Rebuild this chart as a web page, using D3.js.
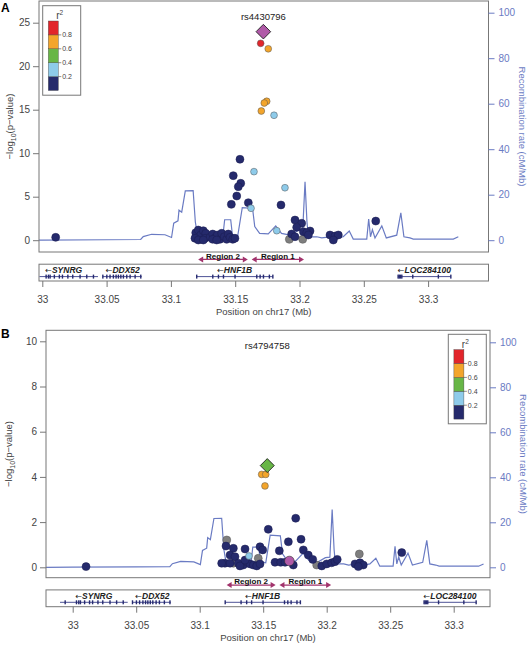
<!DOCTYPE html>
<html><head><meta charset="utf-8">
<script src="https://cdn.jsdelivr.net/npm/d3@7"></script>
<style>body{margin:0;background:#fff;} svg{display:block;font-family:"Liberation Sans",Arial,sans-serif;}</style>
</head><body><svg id="c" width="528" height="645"></svg>
<script>
// ---------- data ----------
const xTickValues = [33, 33.05, 33.1, 33.15, 33.2, 33.25, 33.3];
const xTickLabels = ["33", "33.05", "33.1", "33.15", "33.2", "33.25", "33.3"];
const yTicksA = [0, 5, 10, 15, 20, 25];
const yTicksB = [0, 2, 4, 6, 8, 10];
const recTicks = [0, 20, 40, 60, 80, 100];
const legendBreaks = [0.2, 0.4, 0.6, 0.8];
const legendLabels = ["0.2", "0.4", "0.6", "0.8"];
const legendColors = ["#252a6c", "#8ecbea", "#68b646", "#f3a52b", "#e2252b"];

const recombPos = [32.979, 33.0, 33.05, 33.0765, 33.0785, 33.085, 33.0954, 33.1005, 33.1022, 33.1055, 33.1063, 33.1084, 33.1112, 33.1173, 33.119, 33.1205, 33.126, 33.132, 33.138, 33.1405, 33.1418, 33.1465, 33.1478, 33.152, 33.1555, 33.1635, 33.1652, 33.169, 33.1757, 33.1815, 33.186, 33.1926, 33.199, 33.2025, 33.2043, 33.2058, 33.2068, 33.2082, 33.2134, 33.2173, 33.2237, 33.2289, 33.234, 33.2387, 33.2418, 33.2523, 33.2538, 33.2552, 33.2567, 33.2587, 33.264, 33.2675, 33.2756, 33.2788, 33.2812, 33.2859, 33.2885, 33.3196, 33.3235];
const recombRate = [0, 0.05, 0.2, 0.3, 1.6, 2.6, 2.4, 1.2, 7.5, 8.5, 13.2, 12.3, 21.7, 21.8, 8, 3, 1.8, 1.5, 2, 2.2, 9, 9, 2.5, 2, 14.3, 14, 6, 3, 2.8, 6.3, 3, 2.2, 4.3, 4.5, 25.7, 8, 2, 1.5, 1.5, 1, 1.5, 1, 1.5, 4, 0.5, 0.5, 9.3, 1.5, 4.6, 1, 6.3, 1, 2.2, 12, 1.5, 1, 0.5, 0.5, 1.5];

// Panel A SNPs (position Mb, -log10 p, r2; null = no r2)
const snpPosA = [33.0104, 33.1193, 33.1213, 33.1232, 33.1252, 33.1271, 33.1187, 33.1213, 33.124, 33.1265, 33.1304, 33.1325, 33.1343, 33.1361, 33.1382, 33.1395, 33.1415, 33.1434, 33.1446, 33.146, 33.1481, 33.1498, 33.1325, 33.1356, 33.1252, 33.1537, 33.1485, 33.1543, 33.1524, 33.1512, 33.1602, 33.147, 33.1856, 33.1965, 33.2593, 33.2017, 33.1978, 33.2082, 33.203, 33.2056, 33.1939, 33.2069, 33.1965, 33.1921, 33.2025, 33.2237, 33.2276, 33.2302, 33.2263, 33.1646, 33.1887, 33.1623, 33.1823, 33.1802, 33.1757, 33.1745, 33.1726, 33.1703, 33.1698];
const snpLogpA = [0.33, 0.86, 1.17, 0.6, 1.09, 0.79, 0.22, 0.02, 0.1, 0.22, 0.33, 0.71, 0.22, 0.6, 0.1, 0.79, 0.4, 0.1, 0.71, 0.33, 0.1, 0.22, 0.1, 0.02, 0.02, 9.3, 7.42, 6.54, 6.15, 5.08, 4.31, 4.12, 4.05, 2.32, 2.2, 1.94, 1.48, 1.06, 0.98, 0.86, 0.71, 0.6, 0.4, 0.1, 0.1, 0.6, 0.48, 0.6, 0.02, 7.88, 6.03, 3.67, 1.09, 14.36, 22.0, 15.97, 15.77, 14.85, 22.63];
const snpR2A = [0.05, 0.05, 0.05, 0.05, 0.05, 0.05, 0.05, 0.05, null, 0.05, 0.05, 0.05, 0.05, 0.05, 0.05, 0.05, 0.05, 0.05, 0.05, 0.05, 0.05, 0.05, 0.05, 0.05, 0.05, 0.1, 0.1, 0.1, 0.1, 0.1, 0.1, 0.1, 0.1, 0.1, 0.1, 0.1, 0.1, 0.1, 0.1, 0.1, 0.1, 0.1, 0.1, null, null, 0.1, 0.1, 0.1, 0.1, 0.3, 0.3, 0.3, 0.3, 0.3, 0.7, 0.7, 0.7, 0.7, 0.9];
const leadNameA = "rs4430796";
const leadPosA = 33.1719;
const leadLogpA = 23.97;

// Panel B SNPs
const snpPosB = [33.0105, 33.1207, 33.1265, 33.1357, 33.1475, 33.1496, 33.1239, 33.1199, 33.1239, 33.1278, 33.1304, 33.1343, 33.137, 33.1396, 33.1422, 33.1449, 33.1475, 33.1173, 33.1317, 33.1357, 33.154, 33.1756, 33.1798, 33.1698, 33.1627, 33.1816, 33.1855, 33.189, 33.1593, 33.1638, 33.1672, 33.1737, 33.1961, 33.2, 33.2039, 33.2065, 33.2083, 33.2223, 33.2262, 33.2288, 33.2249, 33.2591, 33.1213, 33.1265, 33.1461, 33.1921, 33.2257, 33.1388, 33.1488, 33.152, 33.1514];
const snpLogpB = [0.03, 0.94, 0.84, 0.81, 0.91, 0.77, 0.54, 0.18, 0.18, 0.47, 0.18, 0.1, 0.25, 0.15, 0.1, 0.06, 0.15, 0.18, 0.06, 0.32, 1.68, 2.17, 1.24, 1.13, 0.73, 0.77, 0.54, 0.35, 0.22, 0.22, 0.22, 0.1, 0.06, 0.15, 0.2, 0.25, 0.35, 0.15, 0.2, 0.1, 0.03, 0.65, 1.21, 0.18, 0.4, 0.1, 0.59, 0.5, 4.11, 4.11, 3.6];
const snpR2B = [0.05, 0.05, 0.05, 0.05, 0.05, 0.05, 0.05, 0.05, 0.05, 0.05, 0.05, 0.05, 0.05, 0.05, 0.05, 0.05, 0.05, 0.05, 0.05, 0.05, 0.1, 0.1, 0.1, 0.1, 0.1, 0.1, 0.1, 0.1, 0.1, 0.1, 0.1, 0.1, 0.1, 0.1, 0.1, 0.1, 0.1, 0.1, 0.1, 0.1, 0.1, 0.1, null, null, null, null, null, 0.3, 0.7, 0.7, 0.7];
const leadNameB = "rs4794758";
const leadPosB = 33.1532;
const leadLogpB = 4.50;
const leadR2B = 0.5;
const refPosB = 33.1706;
const refLogpB = 0.28;

// Genes
const geneNames = ["SYNRG", "DDX52", "HNF1B", "LOC284100"];
const geneStarts = [32.99, 33.047, 33.12, 33.2766];
const geneEnds = [33.0433, 33.0773, 33.1792, 33.3176];
const geneExons = [
  [32.994, 33.0029, 33.0047, 33.006, 33.0093, 33.0132, 33.0156, 33.0198, 33.0236, 33.0293, 33.0345, 33.0397],
  [33.047, 33.0501, 33.0526, 33.0552, 33.0573, 33.0591, 33.061, 33.063, 33.0656, 33.0682, 33.0721, 33.0765],
  [33.12, 33.1325, 33.1369, 33.1408, 33.1498, 33.1667, 33.1693, 33.1719, 33.1765, 33.1792],
  [33.2766, 33.2775, 33.2785, 33.2795, 33.288, 33.3079, 33.3176]
];
const regionNames = ["Region 2", "Region 1"];
const regionStarts = [33.1212, 33.1628];
const regionEnds = [33.1598, 33.2035];

// ---------- drawing ----------
const svg = d3.select("#c");
const purple = "#b05aa8";
const grayPt = "#7e7e7e";
const recColor = "#6a7bc3";
const axisGray = "#777";
const textGray = "#444";
const r2Color = d3.scaleThreshold().domain(legendBreaks).range(legendColors);

const panels = [
  { label: "A", labelY: 12, l: 39, r: 488.5, t: 1, b: 252, xLeft: 42.3, pxPerMb: 1286, yZero: 240.2, ppu: 8.7, y100: 12.7,
    yTicks: yTicksA, pos: snpPosA, logp: snpLogpA, r2: snpR2A,
    leadName: leadNameA, leadPos: leadPosA, leadLogp: leadLogpA, leadColor: purple, leadHalf: 7.3, refPos: null,
    legend: { x: 42.7, y: 5.7 }, leftTitleX: 10, rightTitleX: 521.5 },
  { label: "B", labelY: 338, l: 46, r: 490, t: 330.3, b: 577.7, xLeft: 72.7, pxPerMb: 1270, yZero: 567.3, ppu: 22.6, y100: 342.3,
    yTicks: yTicksB, pos: snpPosB, logp: snpLogpB, r2: snpR2B,
    leadName: leadNameB, leadPos: leadPosB, leadLogp: leadLogpB, leadColor: r2Color(leadR2B), leadHalf: 7, refPos: refPosB, refLogp: refLogpB,
    legend: { x: 448.3, y: 334.3 }, leftTitleX: 9, rightTitleX: 523 }
];

panels.forEach((P, pi) => {
  const g = svg.append("g");
  const x = d3.scaleLinear()
    .domain([33 + (P.l - P.xLeft) / P.pxPerMb, 33 + (P.r - P.xLeft) / P.pxPerMb])
    .range([P.l, P.r]);
  const y = d3.scaleLinear()
    .domain([(P.yZero - P.b) / P.ppu, (P.yZero - P.t) / P.ppu])
    .range([P.b, P.t]);
  const rppu = (P.yZero - P.y100) / 100;
  const yr = d3.scaleLinear()
    .domain([(P.yZero - P.b) / rppu, (P.yZero - P.t) / rppu])
    .range([P.b, P.t]);

  const clipId = "clip" + pi;
  svg.append("clipPath").attr("id", clipId).append("rect")
    .attr("x", P.l).attr("y", P.t).attr("width", P.r - P.l).attr("height", P.b - P.t);

  g.append("text").attr("x", 1).attr("y", P.labelY).attr("font-size", 12).attr("font-weight", "bold")
    .attr("fill", "#000").text(P.label);

  const recData = recombPos.map((p, i) => [p, recombRate[i]]);
  g.append("path").datum(recData).attr("clip-path", `url(#${clipId})`)
    .attr("fill", "none").attr("stroke", recColor).attr("stroke-width", 1.2)
    .attr("d", d3.line().x(d => x(d[0])).y(d => yr(d[1])));

  const pts = P.pos.map((p, i) => ({ p, v: P.logp[i], r2: P.r2[i] }));
  pts.sort((a, b) => (a.r2 === null ? -1 : a.r2) - (b.r2 === null ? -1 : b.r2));
  g.append("g").attr("clip-path", `url(#${clipId})`).selectAll("circle").data(pts).join("circle")
    .attr("cx", d => x(d.p)).attr("cy", d => y(d.v))
    .attr("r", d => (d.r2 === null || d.r2 < 0.2) ? 4 : 3.4)
    .attr("fill", d => d.r2 === null ? grayPt : r2Color(d.r2))
    .attr("stroke", d => d.r2 === null ? "#555" : (d.r2 < 0.2 ? "#1a1d50" : "#555"))
    .attr("stroke-width", 0.5);

  if (P.refPos !== null) {
    g.append("circle").attr("cx", x(P.refPos)).attr("cy", y(P.refLogp)).attr("r", 4.8)
      .attr("fill", purple).attr("stroke", "#333").attr("stroke-width", 0.6);
  }

  const lx = x(P.leadPos), ly = y(P.leadLogp), h = P.leadHalf;
  g.append("path").attr("d", `M${lx},${ly - h}L${lx + h},${ly}L${lx},${ly + h}L${lx - h},${ly}Z`)
    .attr("fill", P.leadColor).attr("stroke", "#222").attr("stroke-width", 0.9);
  g.append("text").attr("x", lx).attr("y", P.t + 19).attr("text-anchor", "middle")
    .attr("font-size", 9.5).attr("fill", "#222").text(P.leadName);

  g.append("rect").attr("x", P.l).attr("y", P.t).attr("width", P.r - P.l).attr("height", P.b - P.t)
    .attr("fill", "none").attr("stroke", axisGray).attr("stroke-width", 1);

  const la = g.append("g").attr("transform", `translate(${P.l},0)`)
    .call(d3.axisLeft(y).tickValues(P.yTicks).tickSize(6).tickPadding(3).tickFormat(d3.format("d")));
  la.select(".domain").remove();
  la.selectAll("line").attr("stroke", axisGray);
  la.selectAll("text").attr("fill", textGray).attr("font-size", 10).attr("font-family", "Liberation Sans, Arial, sans-serif");

  const ra = g.append("g").attr("transform", `translate(${P.r},0)`)
    .call(d3.axisRight(yr).tickValues(recTicks).tickSize(6).tickPadding(4).tickFormat(d3.format("d")));
  ra.select(".domain").remove();
  ra.selectAll("line").attr("stroke", recColor);
  ra.selectAll("text").attr("fill", recColor).attr("font-size", 10).attr("font-family", "Liberation Sans, Arial, sans-serif");

  const midY = (P.t + P.b) / 2;
  const lt = g.append("text").attr("transform", `translate(${P.leftTitleX + 3},${midY}) rotate(-90)`)
    .attr("text-anchor", "middle").attr("font-size", 9.5).attr("fill", textGray);
  lt.append("tspan").text("\u2212log");
  lt.append("tspan").attr("font-size", 7).attr("dy", 2.5).text("10");
  lt.append("tspan").attr("dy", -2.5).text("(p\u2212value)");
  g.append("text").attr("transform", `translate(${P.rightTitleX - 3},${midY}) rotate(90)`)
    .attr("text-anchor", "middle").attr("font-size", 9.5).attr("fill", recColor)
    .text("Recombination rate (cM/Mb)");

  const L = P.legend;
  const lg = g.append("g").attr("transform", `translate(${L.x},${L.y})`);
  lg.append("rect").attr("width", 38).attr("height", 89.5).attr("fill", "#fff").attr("stroke", axisGray).attr("stroke-width", 1);
  const lt2 = lg.append("text").attr("x", 17).attr("y", 13.5).attr("text-anchor", "middle").attr("font-size", 10).attr("fill", textGray);
  lt2.append("tspan").text("r");
  lt2.append("tspan").attr("font-size", 6.5).attr("dy", -4).text("2");
  const sy = d3.scaleLinear().domain([0, 1]).range([84.8, 15.3]);
  const bins = legendColors.map((c, i) => ({ c, lo: i * 0.2, hi: (i + 1) * 0.2 }));
  lg.selectAll("rect.sw").data(bins).join("rect").attr("class", "sw")
    .attr("x", 5.6).attr("width", 10).attr("y", d => sy(d.hi)).attr("height", d => sy(d.lo) - sy(d.hi))
    .attr("fill", d => d.c).attr("stroke", "#444").attr("stroke-width", 0.4);
  lg.selectAll("line.lt").data(legendBreaks).join("line").attr("class", "lt")
    .attr("x1", 15.6).attr("x2", 18.6).attr("y1", d => sy(d)).attr("y2", d => sy(d))
    .attr("stroke", textGray).attr("stroke-width", 0.6);
  lg.selectAll("text.ll").data(legendBreaks).join("text").attr("class", "ll")
    .attr("x", 19.5).attr("y", d => sy(d) + 2.5).attr("font-size", 7).attr("fill", textGray)
    .text((d, i) => legendLabels[i]);

  const ry = P.b + 7.4;
  const rg = g.append("g");
  regionNames.forEach((nm, i) => {
    const x1 = x(regionStarts[i]), x2 = x(regionEnds[i]);
    rg.append("line").attr("x1", x1 + 2).attr("x2", x2 - 2).attr("y1", ry).attr("y2", ry)
      .attr("stroke", "#a2336c").attr("stroke-width", 1.4);
    rg.append("path").attr("d", `M${x1},${ry}L${x1 + 5},${ry - 3}L${x1 + 5},${ry + 3}Z`).attr("fill", "#a2336c");
    rg.append("path").attr("d", `M${x2},${ry}L${x2 - 5},${ry - 3}L${x2 - 5},${ry + 3}Z`).attr("fill", "#a2336c");
    rg.append("text").attr("x", (x1 + x2) / 2).attr("y", ry - 0.8).attr("text-anchor", "middle")
      .attr("font-size", 8).attr("font-weight", "bold").attr("fill", "#111").text(nm);
  });

  const gt = P.b + 12.2, gb = P.b + 29;
  g.append("rect").attr("x", P.l).attr("y", gt).attr("width", P.r - P.l).attr("height", gb - gt)
    .attr("fill", "none").attr("stroke", axisGray).attr("stroke-width", 1);
  const gClipId = "gclip" + pi;
  svg.append("clipPath").attr("id", gClipId).append("rect")
    .attr("x", P.l + 0.5).attr("y", gt).attr("width", P.r - P.l - 1).attr("height", gb - gt);
  const gg = g.append("g").attr("clip-path", `url(#${gClipId})`);
  const lineY = P.b + 24.6;
  geneNames.forEach((nm, i) => {
    const gs = x(geneStarts[i]), ge = x(geneEnds[i]);
    gg.append("line").attr("x1", gs).attr("x2", ge).attr("y1", lineY).attr("y2", lineY)
      .attr("stroke", "#3a3f8a").attr("stroke-width", 0.9);
    gg.selectAll(null).data(geneExons[i]).join("rect")
      .attr("x", d => x(d) - 0.6).attr("width", 1.4).attr("y", lineY - 2).attr("height", 4)
      .attr("fill", "#262a70");
    const visS = Math.max(gs, P.l + 2);
    const cx = Math.max((gs + ge) / 2, visS + 20);
    const t = gg.append("text").attr("x", cx).attr("y", P.b + 21).attr("text-anchor", "middle")
      .attr("font-size", 8.5).attr("font-style", "italic").attr("font-weight", "bold").attr("fill", "#222");
    t.append("tspan").attr("font-family", "DejaVu Sans").attr("font-weight", "normal").attr("font-style", "normal")
      .attr("font-size", 8).text("\u2190");
    t.append("tspan").text(nm);
  });

  const xa = g.append("g").attr("transform", `translate(0,${gb})`)
    .call(d3.axisBottom(x).tickValues(xTickValues).tickSize(6).tickPadding(9)
      .tickFormat((d, i) => xTickLabels[i]));
  xa.select(".domain").remove();
  xa.selectAll("line").attr("stroke", axisGray);
  xa.selectAll("text").attr("fill", textGray).attr("font-size", 10).attr("font-family", "Liberation Sans, Arial, sans-serif");
  g.append("text").attr("x", (P.l + P.r) / 2).attr("y", P.b + 63).attr("text-anchor", "middle")
    .attr("font-size", 9.5).attr("fill", textGray).text("Position on chr17 (Mb)");
});
</script></body></html>
